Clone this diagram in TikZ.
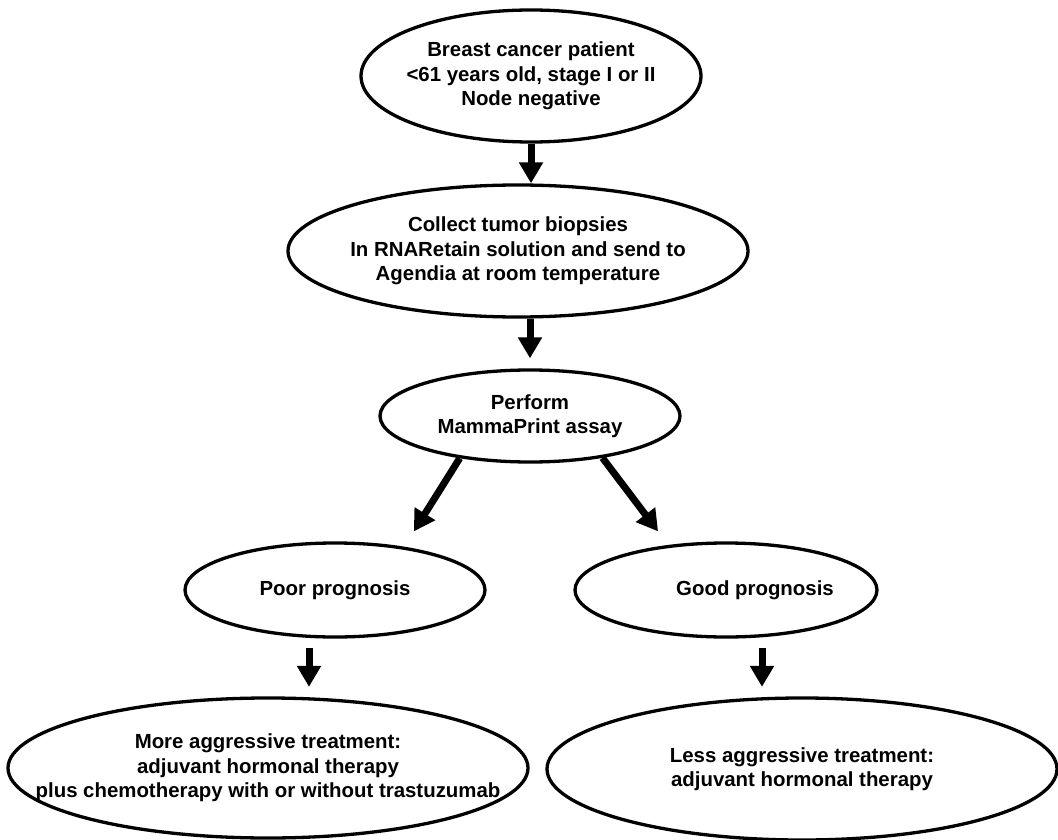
\documentclass[tikz,border=0pt]{standalone}
\usepackage{fontspec}
\setmainfont{Liberation Sans}
\usetikzlibrary{shapes.geometric,arrows.meta,calc}
\begin{document}
\begin{tikzpicture}[x=1pt,y=-1pt,
  box/.style={ellipse, draw, line width=3.3pt, inner xsep=-150pt, inner ysep=-40pt,
    align=center, font=\fontsize{20.4}{24.5}\selectfont\bfseries},
  arr/.style={line width=7pt, -{Triangle[width=23pt,length=21pt]}}]
\useasboundingbox[fill=white] (0,0) rectangle (1058,840);

\node[box, minimum width=340pt, minimum height=132pt] (e1) at (531,76)
  {Breast cancer patient\\<61 years old, stage I or II\\Node negative};
\node[box, minimum width=460pt, minimum height=132pt] (e2) at (518,251)
  {Collect tumor biopsies\\In RNARetain solution and send to\\Agendia at room temperature};
\node[box, minimum width=300pt, minimum height=92pt] (e3) at (530,416)
  {Perform\\MammaPrint assay};
\node[box, minimum width=300pt, minimum height=94pt] (e4) at (335,590)
  {Poor prognosis};
\node[box, minimum width=302pt, minimum height=94pt] (e5) at (726,590)
  {\hspace*{58pt}Good prognosis};
\node[box, minimum width=520pt, minimum height=140pt] (e6) at (268,768)
  {More aggressive treatment:\\adjuvant hormonal therapy\\plus chemotherapy with or without trastuzumab};
\node[box, minimum width=510pt, minimum height=142pt] (e7) at (802,769)
  {Less aggressive treatment:\\adjuvant hormonal therapy};

\draw[arr] (e1.south) -- (e1.south |- e2.north);
\draw[arr, shorten >=10pt] (e3.north |- e2.south) -- (e3.north);
\draw[arr, shorten >=18pt] (e3.211) -- (e4.32);
\draw[arr, shorten >=17pt] (e3.330) -- (e5.142);
\draw[arr, shorten <=9pt, shorten >=9.5pt] ([xshift=-26pt]e4.south) -- ([xshift=-26pt]e4.south |- e6.north);
\draw[arr, shorten <=9pt, shorten >=9.5pt] ([xshift=36pt]e5.south) -- ([xshift=36pt]e5.south |- e7.north);
\end{tikzpicture}
\end{document}
